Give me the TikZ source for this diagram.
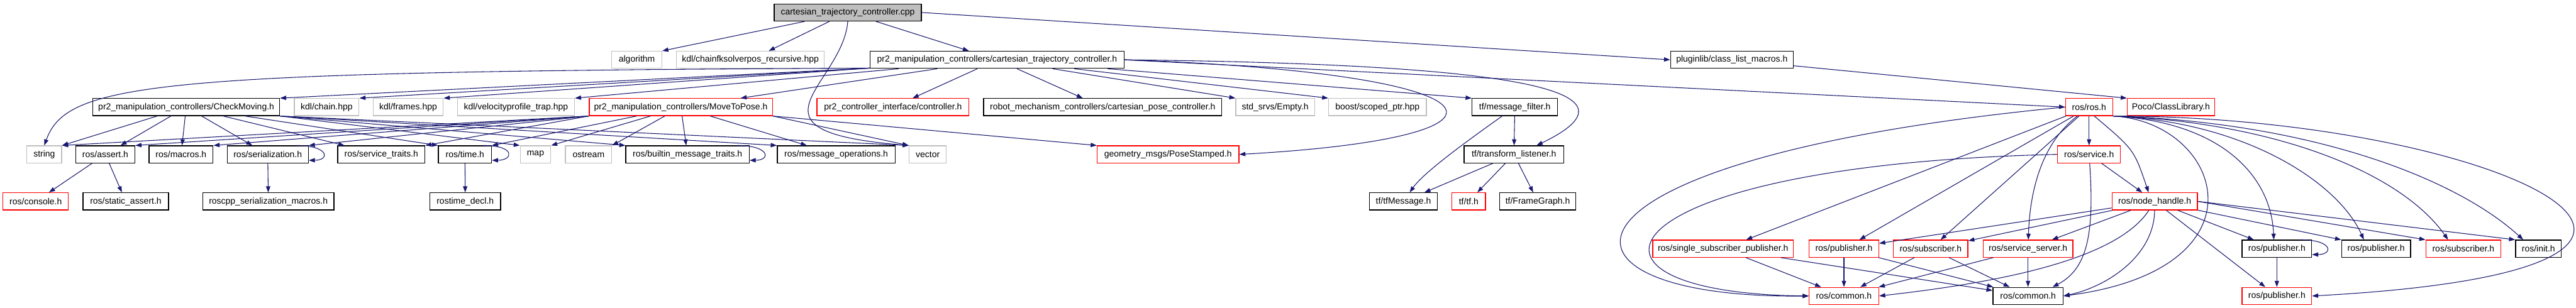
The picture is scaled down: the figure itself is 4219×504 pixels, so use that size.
\documentclass[tikz,border=0pt]{standalone}
\usepackage{fontspec}
\setmainfont{Liberation Sans}
\usepackage{tikz}
\usetikzlibrary{arrows.meta}
\definecolor{edgecol}{HTML}{191970}
\definecolor{extcol}{HTML}{BFBFBF}
\definecolor{redcol}{HTML}{FF0000}
\definecolor{rootcol}{HTML}{BFBFBF}
\tikzset{
  hbase/.style={rectangle,fill=white,line width=1.3pt,minimum height=28pt,inner xsep=0pt,inner ysep=0pt,font=\fontsize{14.4}{16}\selectfont},
  hfile/.style={hbase,draw=black},
  hext/.style={hbase,draw=extcol},
  hred/.style={hbase,draw=redcol},
  hroot/.style={hbase,draw=black,fill=rootcol},
  incl/.style={draw=edgecol,line width=1.1pt,-{Triangle[length=10pt,width=7pt]},edgecol}
}
\newcommand{\incbox}[5]{\node[#1,minimum width=#4pt] (#2) at (#3) {#5};}
\newcommand{\selfloop}[2]{\draw[incl] ([xshift=-#2pt]#1.north east) .. controls +(55,0) and +(35,0) .. ([yshift=5pt]#1.south east);}

\begin{document}
\begin{tikzpicture}[x=1pt,y=-1pt]
\fill[white] (0,0) rectangle (4219,504);
\useasboundingbox (0,0) rectangle (4219,504);

\incbox{hroot}{root}{1388.5,20.5}{241}{cartesian\_trajectory\_controller.cpp}

\incbox{hext}{algo}{1043,98}{82}{algorithm}
\incbox{hext}{chainfk}{1229,98}{242}{kdl/chainfksolverpos\_recursive.hpp}
\incbox{hfile}{ctc}{1633,98}{416}{pr2\_manipulation\_controllers/cartesian\_trajectory\_controller.h}
\incbox{hfile}{plugin}{2836.5,98}{201}{pluginlib/class\_list\_macros.h}

\incbox{hfile}{chkmov}{305,175.5}{306}{pr2\_manipulation\_controllers/CheckMoving.h}
\incbox{hext}{chain}{535,175.5}{106}{kdl/chain.hpp}
\incbox{hext}{frames}{668.5,175.5}{115}{kdl/frames.hpp}
\incbox{hext}{velprof}{845,175.5}{192}{kdl/velocityprofile\_trap.hpp}
\incbox{hred}{movepose}{1115,175.5}{300}{pr2\_manipulation\_controllers/MoveToPose.h}
\incbox{hred}{ctrl}{1462.5,175.5}{249}{pr2\_controller\_interface/controller.h}
\incbox{hfile}{cartpose}{1806,175.5}{390}{robot\_mechanism\_controllers/cartesian\_pose\_controller.h}
\incbox{hext}{empty}{2088.5,175.5}{129}{std\_srvs/Empty.h}
\incbox{hext}{scoped}{2256,175.5}{160}{boost/scoped\_ptr.hpp}
\incbox{hfile}{msgfilt}{2481,175.5}{140}{tf/message\_filter.h}
\incbox{hred}{rosh}{3421.5,175.5}{77}{ros/ros.h}
\incbox{hred}{poco}{3555.5,175.5}{143}{Poco/ClassLibrary.h}

\incbox{hext}{string}{72.5,253}{57}{string}
\incbox{hfile}{assert}{172.5,253}{97}{ros/assert.h}
\incbox{hfile}{macros}{296.5,253}{105}{ros/macros.h}
\incbox{hfile}{serial}{438.5,253}{133}{ros/serialization.h}
\incbox{hfile}{srvtraits}{624.5,253}{143}{ros/service\_traits.h}
\incbox{hfile}{time}{761.5,253}{87}{ros/time.h}
\incbox{hext}{map}{877,253}{50}{map}
\incbox{hext}{ostream}{964,253}{76}{ostream}
\incbox{hfile}{builtin}{1126,253}{202}{ros/builtin\_message\_traits.h}
\incbox{hfile}{msgops}{1369.5,253}{193}{ros/message\_operations.h}
\incbox{hext}{vector}{1519.5,253}{61}{vector}
\incbox{hred}{posest}{1913,253}{232}{geometry\_msgs/PoseStamped.h}
\incbox{hfile}{tflisten}{2479.5,253}{163}{tf/transform\_listener.h}
\incbox{hred}{service}{3421.5,253}{103}{ros/service.h}

\incbox{hred}{console}{58.5,330}{107}{ros/console.h}
\incbox{hfile}{sassert}{206,330}{140}{ros/static\_assert.h}
\incbox{hfile}{sermacros}{439.5,330}{215}{roscpp\_serialization\_macros.h}
\incbox{hfile}{timedecl}{762,330}{116}{rostime\_decl.h}
\incbox{hfile}{tfmsg}{2298.5,330}{111}{tf/tfMessage.h}
\incbox{hred}{tftf}{2405.5,330}{55}{tf/tf.h}
\incbox{hfile}{framegr}{2518.5,330}{125}{tf/FrameGraph.h}
\incbox{hred}{nodeh}{3529,330}{140}{ros/node\_handle.h}

\incbox{hred}{sspub}{2822,407.5}{230}{ros/single\_subscriber\_publisher.h}
\incbox{hred}{pubA}{3020,407.5}{114}{ros/publisher.h}
\incbox{hred}{subA}{3162,407.5}{122}{ros/subscriber.h}
\incbox{hred}{srvserv}{3321.5,407.5}{147}{ros/service\_server.h}
\incbox{hfile}{pubB}{3729,407.5}{114}{ros/publisher.h}
\incbox{hfile}{pubC}{3891.5,407.5}{113}{ros/publisher.h}
\incbox{hred}{subB}{4034.5,407.5}{123}{ros/subscriber.h}
\incbox{hfile}{init}{4157.5,407.5}{75}{ros/init.h}

\incbox{hred}{commonA}{3020,485}{114}{ros/common.h}
\incbox{hfile}{commonB}{3321.5,485}{115}{ros/common.h}
\incbox{hred}{pubD}{3729,485}{114}{ros/publisher.h}

\draw[incl] (root) -- (algo.north east);
\draw[incl] (root) -- (chainfk);
\draw[incl] (root) -- (ctc);
\draw[incl] (root.east) -- (plugin.west);
\draw[incl] (root.south) .. controls (1380,140) and (1200,215) .. (vector.north west);

\draw[incl] ([yshift=1pt]ctc.south west) .. controls (250,117) and (110,135) .. (string.north);
\draw[incl] ([yshift=1pt]ctc.south west) -- (chkmov.north east);
\draw[incl] ([yshift=1pt]ctc.south west) -- (chain.north east);
\draw[incl] ([yshift=1pt]ctc.south west) -- (frames.north east);
\draw[incl] (ctc) -- (velprof.north east);
\draw[incl] (ctc) -- (movepose);
\draw[incl] (ctc) -- (ctrl);
\draw[incl] (ctc) -- (cartpose);
\draw[incl] (ctc) -- (empty.north west);
\draw[incl] (ctc) -- (scoped.north west);
\draw[incl] (ctc) -- (msgfilt.north west);
\draw[incl] (ctc.east) .. controls (2480,120) and (2530,225) .. (posest.east);
\draw[incl] (ctc.east) .. controls (2500,105) and (2700,150) .. ([xshift=-45pt]tflisten.north east);
\draw[incl] (ctc.east) -- (rosh.west);

\draw[incl] (chkmov) -- (string.north east);
\draw[incl] (chkmov) -- (assert);
\draw[incl] (chkmov) -- (macros);
\draw[incl] (chkmov) -- (serial);
\draw[incl] (chkmov) -- (srvtraits);
\draw[incl] (chkmov) -- (time.north west);
\draw[incl] (chkmov.south east) -- (map.north west);
\draw[incl] (chkmov.south east) -- (builtin.north west);
\draw[incl] (chkmov.south east) -- (msgops.north west);
\draw[incl] (chkmov.south east) -- (vector.north west);

\draw[incl] (movepose.south west) -- (string.north east);
\draw[incl] (movepose.south west) -- (assert.north east);
\draw[incl] (movepose.south west) -- (macros.north east);
\draw[incl] (movepose.south west) -- (serial.north east);
\draw[incl] (movepose.south west) -- (srvtraits.north east);
\draw[incl] (movepose) -- (time.north east);
\draw[incl] (movepose) -- (map.north east);
\draw[incl] (movepose) -- (ostream.north east);
\draw[incl] (movepose) -- (builtin);
\draw[incl] (movepose) -- (msgops);
\draw[incl] (movepose.south east) -- (vector.north west);
\draw[incl] (movepose.south east) -- (posest.north west);

\selfloop{serial}{21}
\selfloop{time}{15}
\selfloop{builtin}{21}
\selfloop{pubB}{20}

\draw[incl] (assert) -- (console);
\draw[incl] (assert) -- (sassert);
\draw[incl] (serial) -- (sermacros);
\draw[incl] (time) -- (timedecl);

\draw[incl] (msgfilt) -- (tflisten);
\draw[incl] (msgfilt) .. controls (2390,240) and (2330,285) .. (tfmsg);
\draw[incl] (tflisten) -- (tfmsg);
\draw[incl] (tflisten) -- (tftf);
\draw[incl] (tflisten) -- (framegr);

\draw[incl] (plugin) -- (poco.north west);

\draw[incl] (rosh.west) .. controls (2500,260) and (2500,490) .. (commonA.west);
\draw[incl] (service.west) .. controls (2620,270) and (2530,480) .. (commonA.west);
\draw[incl] (rosh) -- (service);
\draw[incl] (rosh.-60) .. controls (3495,245) .. ([xshift=-10pt]nodeh.north);
\draw[incl] (service) -- (nodeh);
\draw[incl] (service) .. controls (3430,380) and (3420,440) .. ([xshift=-18pt]commonB.north east);
\draw[incl] (rosh) -- (sspub);
\draw[incl] (rosh) -- (pubA);
\draw[incl] (rosh) -- (subA);
\draw[incl] (rosh) .. controls (3350,230) and (3325,300) .. (srvserv);
\draw[incl] (rosh.south east) .. controls (3640,200) and (3720,440) .. (commonB.east);
\draw[incl] (rosh.south east) .. controls (3640,200) and (3720,290) .. ([xshift=-5pt]pubB.north);
\draw[incl] (rosh.south east) .. controls (3680,200) and (3830,300) .. ([xshift=-20pt]pubC.north);
\draw[incl] (rosh.south east) .. controls (3720,200) and (3930,280) .. ([xshift=-25pt]subB.north);
\draw[incl] (rosh.south east) .. controls (3780,200) and (4020,290) .. ([xshift=-25pt]init.north);
\draw[incl] (rosh.south east) .. controls (4080,190) and (4620,440) .. (pubD.east);

\draw[incl] (nodeh) -- (pubA);
\draw[incl] (nodeh) -- (subA);
\draw[incl] (nodeh) -- (srvserv);
\draw[incl] (nodeh) .. controls (3470,420) and (3300,460) .. (commonA.east);
\draw[incl] (nodeh) .. controls (3528,420) and (3450,470) .. (commonB.east);
\draw[incl] (nodeh) -- (pubD);
\draw[incl] (nodeh) -- (pubB);
\draw[incl] (nodeh) -- (pubC.north west);
\draw[incl] (nodeh.east) -- (subB.north west);
\draw[incl] (nodeh.east) -- (init.north west);

\draw[incl] (sspub) -- (commonA);
\draw[incl] (sspub) -- (commonB);
\draw[incl] (pubA) -- (commonA);
\draw[incl] (pubA) -- (commonB);
\draw[incl] (subA) -- (commonA);
\draw[incl] (subA) -- (commonB);
\draw[incl] (srvserv) -- (commonA);
\draw[incl] (srvserv) -- (commonB);
\draw[incl] (pubB) -- (pubD);
\end{tikzpicture}
\end{document}
